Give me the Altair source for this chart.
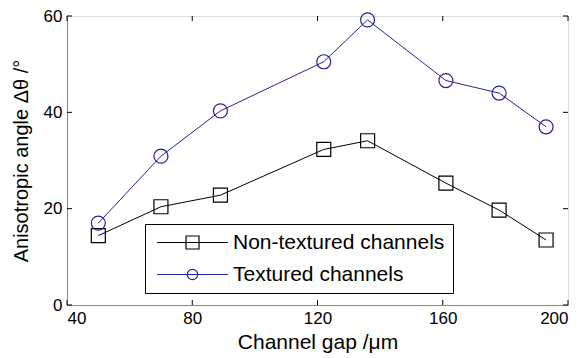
import altair as alt
import pandas as pd

gap = [50, 70, 89, 122, 136, 161, 178, 193]
non_textured = [14.4, 20.4, 22.8, 32.3, 34.1, 25.3, 19.7, 13.5]
textured = [17.0, 30.9, 40.3, 50.5, 59.2, 46.6, 44.0, 37.0]
series_names = ["Non-textured channels", "Textured channels"]
series_colors = ["#000000", "#24249a"]
x_ticks = [40, 80, 120, 160, 200]
y_ticks = [0, 20, 40, 60]

FONT = "Liberation Sans"
W, H = 501, 289

df = pd.DataFrame({
    "gap": gap * 2,
    "angle": non_textured + textured,
    "series": [series_names[0]] * len(gap) + [series_names[1]] * len(gap),
})
xt = pd.DataFrame({"v": x_ticks})
yt = pd.DataFrame({"v": y_ticks})

xs = alt.Scale(domain=[40, 200], nice=False)
ys = alt.Scale(domain=[0, 60], nice=False)

X = alt.X("gap:Q", scale=xs,
          axis=alt.Axis(values=x_ticks, title="Channel gap /μm", ticks=False,
                        labelFontSize=17, titleFontSize=21, labelPadding=5,
                        titlePadding=5, grid=False, titleFontWeight="normal",
                        titleFont=FONT, labelFont=FONT))
Y = alt.Y("angle:Q", scale=ys,
          axis=alt.Axis(values=y_ticks, title="Anisotropic angle Δθ /°", ticks=False,
                        labelFontSize=17, titleFontSize=20, labelPadding=5,
                        titlePadding=12, grid=False, titleFontWeight="normal",
                        titleFont=FONT, labelFont=FONT))

base = alt.Chart(df)
layers = []
for name, col, shp in zip(series_names, series_colors, ["square", "circle"]):
    sub = base.transform_filter(alt.datum.series == name)
    layers.append(sub.mark_line(color=col, strokeWidth=1).encode(x=X, y=Y))
    layers.append(sub.mark_point(shape=shp, color=col, filled=False, size=196,
                                 strokeWidth=1.2, opacity=1).encode(x=X, y=Y))

sq_path = "M-5.45,0H5.45M-1,-1H1V1H-1Z"
ci_path = "M-5.45,0H5.45M0.8,0A0.8,0.8,0,1,1,-0.8,0A0.8,0.8,0,1,1,0.8,0Z"

def make_legend():
    return alt.Legend(title=None, orient="none", legendX=78, legendY=208,
                      strokeColor="black", fillColor="white", padding=8,
                      rowPadding=10, labelFontSize=21, labelFont=FONT,
                      labelColor="black", labelLimit=0, symbolSize=169,
                      symbolOffset=29, labelOffset=30,
                      symbolOpacity=1, symbolStrokeWidth=1.2,
                      symbolFillColor="transparent")

legend_layer = base.mark_point(filled=False, opacity=0).encode(
    x=X, y=Y,
    color=alt.Color("series:N",
                    scale=alt.Scale(domain=series_names, range=series_colors),
                    legend=make_legend()),
    shape=alt.Shape("series:N",
                    scale=alt.Scale(domain=series_names, range=[sq_path, ci_path]),
                    legend=make_legend()),
)

# inward ticks on all four sides
tb = alt.Chart(xt).mark_rule(color="black", strokeWidth=1).encode(
    x=alt.X("v:Q", scale=xs), y=alt.value(H), y2=alt.value(H - 5))
tt = alt.Chart(xt).mark_rule(color="black", strokeWidth=1).encode(
    x=alt.X("v:Q", scale=xs), y=alt.value(0), y2=alt.value(5))
tl = alt.Chart(yt).mark_rule(color="black", strokeWidth=1).encode(
    y=alt.Y("v:Q", scale=ys), x=alt.value(0), x2=alt.value(5))
tr = alt.Chart(yt).mark_rule(color="black", strokeWidth=1).encode(
    y=alt.Y("v:Q", scale=ys), x=alt.value(W), x2=alt.value(W - 5))

chart = alt.layer(tb, tt, tl, tr, *layers, legend_layer).properties(
    width=W, height=H,
    autosize=alt.AutoSizeParams(type="none"),
    padding={"left": 59, "top": 8, "right": 7, "bottom": 50},
).configure_view(stroke="black", strokeWidth=1).configure_axis(
    domainColor="black", labelColor="black", titleColor="black",
    labelFont=FONT, titleFont=FONT, titleFontWeight="normal",
).configure(background="white")

chart.save("out.html", embed_options={"renderer": "svg", "actions": False})
